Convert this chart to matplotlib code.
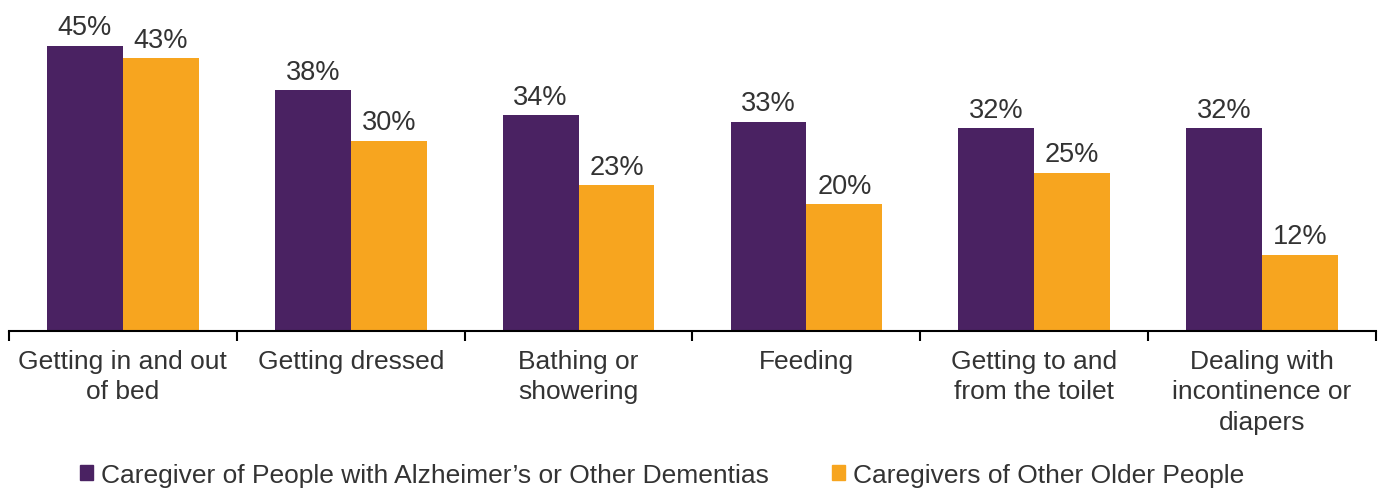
import matplotlib
matplotlib.use("Agg")
import matplotlib.pyplot as plt
import numpy as np
from matplotlib.patches import Patch

categories = ["Getting in and out\nof bed", "Getting dressed", "Bathing or\nshowering",
              "Feeding", "Getting to and\nfrom the toilet", "Dealing with\nincontinence or\ndiapers"]
alz = [45, 38, 34, 33, 32, 32]
other = [43, 30, 23, 20, 25, 12]
series_names = ["Caregiver of People with Alzheimer\u2019s or Other Dementias",
                "Caregivers of Other Older People"]

PURPLE = "#4A2262"
ORANGE = "#F7A51F"
TXT = "#333333"

plt.rcParams['font.family'] = ['Liberation Sans', 'DejaVu Sans']

fig = plt.figure(figsize=(13.79, 4.89), dpi=100)
ax = fig.add_axes([9/1379, (489-332)/489, (1376-9)/1379, (332-15)/489])

x = np.arange(len(categories))
w = 0.333
b1 = ax.bar(x - w/2, alz, w, color=PURPLE)
b2 = ax.bar(x + w/2, other, w, color=ORANGE)
for bars, vals in ((b1, alz), (b2, other)):
    for r, v in zip(bars, vals):
        ax.annotate(f"{v}%", (r.get_x() + r.get_width()/2, r.get_height()),
                    xytext=(0, 4), textcoords="offset points", ha="center", va="bottom",
                    fontsize=19.5, color=TXT)

ax.set_xlim(-0.5, len(categories) - 0.5)
ax.set_ylim(0, 50)
for s in ["top", "right", "left"]:
    ax.spines[s].set_visible(False)
ax.spines["bottom"].set_linewidth(1.5)
ax.spines["bottom"].set_color("black")
ax.set_yticks([])
ax.set_xticks(np.arange(len(categories) + 1) - 0.5)
ax.set_xticklabels([])
ax.tick_params(axis="x", length=7, width=1.5, color="black")
ax.set_xticks(x, minor=True)
ax.set_xticklabels(categories, minor=True, fontsize=19, color=TXT, linespacing=1.33)
ax.tick_params(axis="x", which="minor", length=0, pad=13)

handles = [Patch(color=PURPLE), Patch(color=ORANGE)]
fig.legend(handles, series_names, loc="center", bbox_to_anchor=(662/1379, 13/489),
           ncol=2, frameon=False, fontsize=19, handlelength=0.5, handleheight=0.5,
           handletextpad=0.3, columnspacing=2.4, labelcolor=TXT)

fig.savefig("out.png", dpi=100)
